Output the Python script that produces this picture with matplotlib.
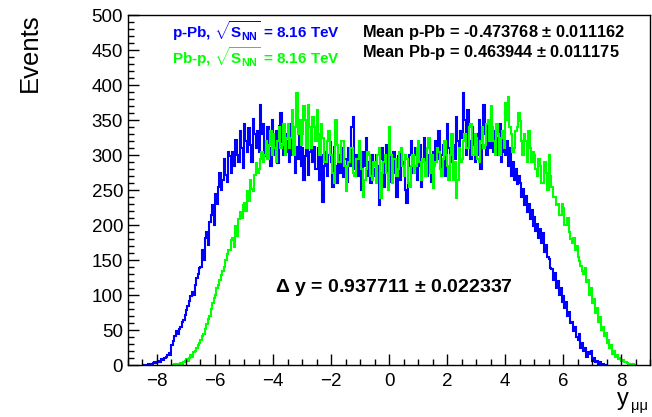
import numpy as np
import matplotlib
matplotlib.use("Agg")
import matplotlib.pyplot as plt
from matplotlib.ticker import MultipleLocator

plt.rcParams['font.family'] = ['Liberation Sans', 'DejaVu Sans']
plt.rcParams['mathtext.fontset'] = 'custom'
plt.rcParams['mathtext.rm'] = 'Liberation Sans:bold'
plt.rcParams['mathtext.it'] = 'Liberation Sans:bold'
plt.rcParams['mathtext.bf'] = 'Liberation Sans:bold'
plt.rcParams['mathtext.sf'] = 'Liberation Sans'

bin_width = 0.05

# p-Pb (blue), bins starting at -8.5, one row per unit of y
ppb_start = -8.5
ppb_counts = [
    0, 0, 0, 0, 1, 2, 2, 3, 4, 3, 5, 6, 4, 8, 7, 10, 12, 14, 17, 15,
    28, 35, 42, 48, 45, 52, 55, 62, 65, 72, 78, 85, 92, 98, 105, 100, 115, 125, 130, 138,
    140, 165, 150, 182, 190, 172, 205, 215, 228, 200, 245, 230, 255, 275, 250, 265, 295, 272, 262, 305,
    298, 275, 305, 285, 322, 300, 290, 335, 310, 282, 345, 320, 305, 338, 315, 290, 352, 330, 310, 335,
    305, 372, 330, 345, 298, 318, 340, 310, 285, 350, 322, 300, 335, 288, 342, 360, 318, 300, 330, 305,
    320, 290, 345, 300, 330, 275, 312, 295, 340, 285, 310, 265, 298, 330, 272, 305, 328, 290, 312, 280,
    280, 310, 265, 300, 233, 285, 305, 270, 300, 318, 290, 255, 312, 285, 260, 300, 275, 310, 268, 295,
    295, 262, 310, 285, 340, 355, 280, 300, 270, 315, 295, 250, 305, 285, 325, 270, 290, 260, 300, 280,
    270, 300, 285, 229, 295, 310, 255, 290, 315, 270, 300, 262, 285, 305, 275, 240, 298, 265, 310, 290,
    275, 250, 231, 285, 300, 320, 275, 300, 310, 265, 285, 315, 255, 295, 325, 290, 270, 300, 280, 262,
    305, 285, 320, 295, 335, 280, 300, 315, 270, 300, 345, 310, 290, 330, 315, 295, 355, 320, 300, 335,
    325, 388, 350, 300, 364, 320, 295, 340, 315, 290, 330, 300, 350, 280, 315, 371, 330, 300, 345, 310,
    360, 320, 305, 335, 325, 300, 345, 290, 335, 305, 300, 320, 285, 310, 270, 290, 265, 280, 258, 270,
    260, 240, 252, 228, 242, 218, 230, 208, 222, 198, 212, 192, 202, 182, 195, 175, 188, 162, 172, 155,
    152, 138, 137, 122, 132, 110, 120, 100, 110, 90, 98, 82, 90, 70, 76, 60, 62, 48, 54, 40,
    36, 44, 25, 31, 20, 24, 12, 18, 16, 20, 6, 10, 4, 6, 2, 4, 1, 1, 0, 0,
]

# Pb-p (green), bins starting at -7.5
pbp_start = -7.5
pbp_counts = [
    0, 0, 1, 0, 2, 1, 3, 2, 4, 6, 8, 6, 10, 14, 12, 18, 20, 24, 28, 32,
    36, 42, 45, 52, 58, 66, 70, 80, 88, 96, 100, 110, 115, 122, 128, 135, 140, 150, 158, 165,
    165, 178, 182, 168, 198, 185, 208, 218, 210, 228, 232, 220, 248, 235, 265, 252, 248, 272, 288, 275,
    280, 295, 305, 290, 300, 320, 295, 315, 335, 300, 330, 310, 290, 320, 340, 310, 315, 345, 300, 325,
    345, 310, 325, 365, 300, 340, 388, 330, 350, 315, 330, 370, 350, 310, 372, 340, 310, 355, 340, 320,
    364, 330, 300, 345, 325, 290, 290, 320, 335, 300, 300, 275, 260, 350, 315, 290, 290, 320, 320, 285,
    248, 285, 290, 310, 310, 275, 270, 295, 295, 320, 305, 280, 240, 265, 280, 305, 300, 270, 265, 290,
    285, 260, 300, 310, 238, 275, 290, 300, 275, 250, 340, 300, 260, 295, 295, 270, 280, 305, 310, 285,
    270, 300, 295, 260, 255, 285, 300, 275, 285, 310, 320, 290, 265, 295, 290, 270, 310, 325, 275, 300,
    253, 285, 290, 310, 305, 280, 270, 295, 320, 300, 285, 265, 300, 330, 265, 290, 238, 265, 310, 290,
    295, 320, 330, 310, 310, 340, 345, 300, 300, 330, 325, 295, 290, 320, 340, 310, 315, 345, 350, 320,
    370, 340, 320, 300, 345, 330, 300, 325, 335, 310, 375, 350, 383, 340, 330, 305, 310, 335, 340, 360,
    348, 320, 300, 330, 320, 290, 335, 310, 290, 305, 300, 280, 270, 295, 285, 260, 260, 290, 275, 250,
    300, 270, 255, 240, 240, 228, 230, 215, 215, 230, 225, 200, 200, 210, 190, 180, 175, 182, 165, 170,
    155, 148, 142, 135, 130, 138, 118, 122, 100, 110, 88, 95, 75, 82, 62, 68, 50, 55, 42, 46,
    32, 36, 25, 28, 16, 20, 12, 14, 8, 10, 6, 7, 4, 5, 3, 2, 2, 1, 1, 0,
]

fig = plt.figure(figsize=(6.52, 4.17), dpi=100)
ax = fig.add_axes([0.1963, 0.1247, 0.8007, 0.8393])

edges_b = ppb_start + bin_width * np.arange(len(ppb_counts) + 1)
edges_g = pbp_start + bin_width * np.arange(len(pbp_counts) + 1)
ax.stairs(ppb_counts, edges_b, color='#0000ff', lw=1.5)
ax.stairs(pbp_counts, edges_g, color='#00ff00', lw=1.5)

ax.set_xlim(-9, 9)
ax.set_ylim(0, 500)
ax.xaxis.set_major_locator(MultipleLocator(2))
ax.xaxis.set_minor_locator(MultipleLocator(0.5))
ax.yaxis.set_major_locator(MultipleLocator(50))
ax.yaxis.set_minor_locator(MultipleLocator(10))
ax.tick_params(which='both', direction='in', top=False, right=False, labelsize=13.5, width=1)
ax.tick_params(which='major', length=8)
ax.tick_params(which='minor', length=4)
ax.tick_params(axis='x', pad=6)
for s in ax.spines.values():
    s.set_linewidth(1)

# axis titles
fig.text(30 / 652, 1 - 13 / 417, 'Events', rotation=90, ha='center', va='top', fontsize=18.5)
fig.text(630 / 652, 1 - 405 / 417, r'$\mathsf{y}$', ha='right', va='baseline', fontsize=17)
fig.text(631 / 652, 1 - 410 / 417, 'μμ', ha='left', va='baseline', fontsize=10.5)

# legend
fig.text(172 / 652, 1 - 31 / 417, r'p-Pb, $\sqrt{\mathrm{S_{NN}}}$ = 8.16 TeV',
         color='#0000ff', fontsize=11, fontweight='bold', va='center')
fig.text(172 / 652, 1 - 57 / 417, r'Pb-p, $\sqrt{\mathrm{S_{NN}}}$ = 8.16 TeV',
         color='#00ff00', fontsize=11, fontweight='bold', va='center')

fig.text(362 / 652, 1 - 33 / 417, 'Mean p-Pb = -0.473768 $\\pm$ 0.011162',
         fontsize=11.8, fontweight='bold', va='center')
fig.text(362 / 652, 1 - 53 / 417, 'Mean Pb-p = 0.463944 $\\pm$ 0.011175',
         fontsize=11.8, fontweight='bold', va='center')

fig.text(275 / 652, 1 - 287 / 417, r'$\Delta$ y = 0.937711 $\pm$ 0.022337',
         fontsize=14, fontweight='bold', va='center', ha='left')

fig.savefig('out.png', dpi=100)
